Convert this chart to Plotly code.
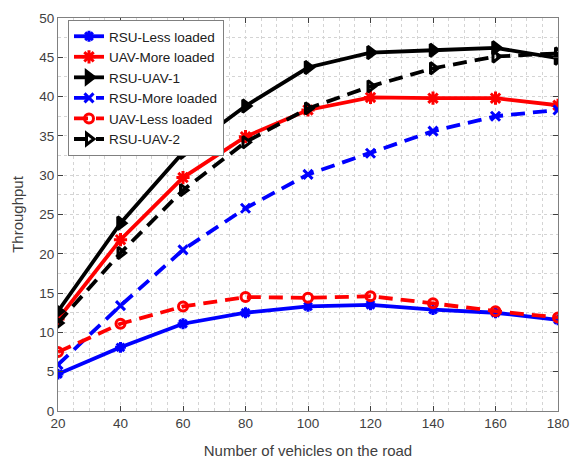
import plotly.graph_objects as go

x_vehicles = [20, 40, 60, 80, 100, 120, 140, 160, 180]

rsu_less = [4.7, 8.1, 11.1, 12.5, 13.3, 13.5, 12.9, 12.5, 11.6]
uav_more = [11.7, 21.8, 29.7, 34.9, 38.3, 39.9, 39.8, 39.8, 38.9]
rsu_uav_1 = [12.7, 23.9, 32.9, 38.8, 43.7, 45.6, 45.9, 46.2, 44.9]
rsu_more = [5.9, 13.4, 20.5, 25.8, 30.1, 32.8, 35.6, 37.5, 38.3]
uav_less = [7.5, 11.1, 13.3, 14.5, 14.4, 14.6, 13.7, 12.7, 11.9]
rsu_uav_2 = [11.2, 20.1, 28.1, 34.2, 38.5, 41.3, 43.6, 45.1, 45.5]

series = [
    ("RSU-Less loaded", rsu_less, "#0000ff", "solid", "asterisk-open", 9),
    ("UAV-More loaded", uav_more, "#ff0000", "solid", "asterisk-open", 11),
    ("RSU-UAV-1", rsu_uav_1, "#000000", "solid", "triangle-right", 11),
    ("RSU-More loaded", rsu_more, "#0000ff", "14px,8px", "x-thin-open", 9),
    ("UAV-Less loaded", uav_less, "#ff0000", "14px,8px", "circle-open", 9),
    ("RSU-UAV-2", rsu_uav_2, "#000000", "14px,8px", "triangle-right-open", 10),
]

fig = go.Figure()
for name, ys, col, dash, sym, sz in series:
    fig.add_trace(go.Scatter(
        x=x_vehicles, y=ys, name=name, mode="lines+markers",
        line=dict(color=col, width=3.8, dash=dash),
        marker=dict(symbol=sym, size=sz, color=col,
                    line=dict(color=col, width=3)),
    ))

font_fam = "Liberation Sans, Arial"
axis_common = dict(
    showline=True, linecolor="#808080", linewidth=1, mirror="ticks",
    ticks="inside", ticklen=5, tickcolor="#404040",
    showgrid=True, gridcolor="#d4d4d4", griddash="dot", gridwidth=1,
    zeroline=False, automargin=False,
    tickfont=dict(family=font_fam, size=13.5, color="#404040"),
)

fig.update_xaxes(
    range=[20, 180], dtick=20, tick0=20,
    minor=dict(dtick=5, showgrid=True, gridcolor="#d4d4d4", griddash="dot", ticks=""),
    title=dict(text="Number of vehicles on the road", standoff=15,
               font=dict(family=font_fam, size=15, color="#404040")),
    **axis_common,
)
fig.update_yaxes(
    range=[0, 50], dtick=5,
    minor=dict(dtick=2.5, showgrid=True, gridcolor="#d4d4d4", griddash="dot", ticks=""),
    title=dict(text="Throughput", standoff=12,
               font=dict(family=font_fam, size=15, color="#404040")),
    **axis_common,
)

fig.update_layout(
    width=581, height=460,
    margin=dict(l=58, r=23, t=18, b=49),
    paper_bgcolor="white", plot_bgcolor="white",
    showlegend=True,
    legend=dict(
        x=0.02, y=0.995, xanchor="left", yanchor="top",
        bgcolor="white", bordercolor="#808080", borderwidth=1,
        font=dict(family=font_fam, size=13.5, color="#202020"),
        tracegroupgap=0, itemwidth=30,
    ),
)

fig.write_html("out.html")
